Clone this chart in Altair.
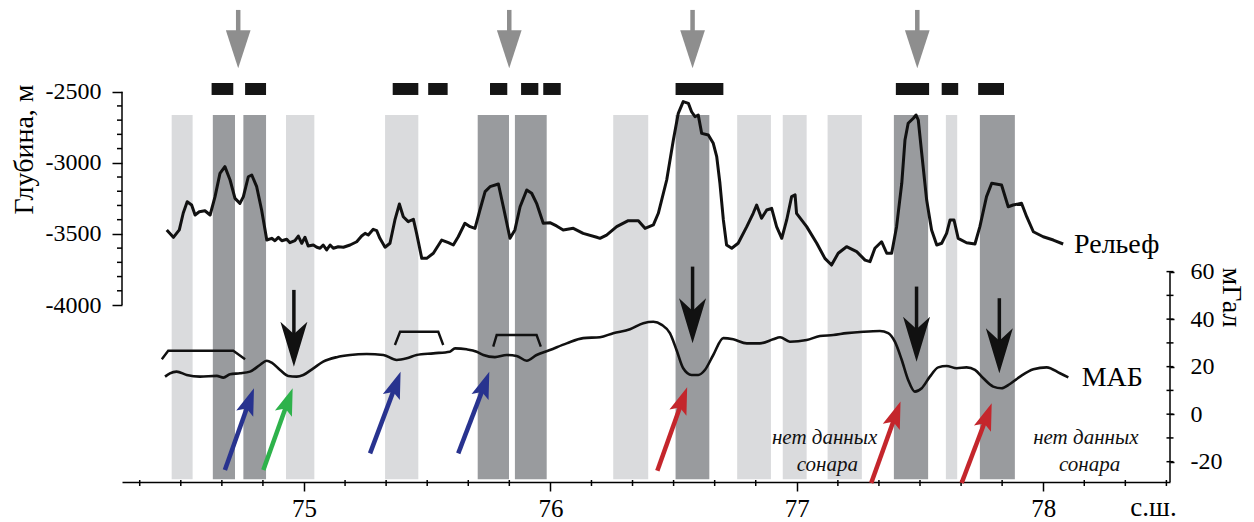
import altair as alt
import pandas as pd

FONT = "Liberation Serif"
X_DOMAIN = [74.2614, 78.5146]
DEPTH_DOMAIN = [-5244.7, -1911.4]
MAB_DOMAIN = [-28.55, 170.95]

# ---------------- data ----------------
relief_lat = [74.443, 74.470, 74.494, 74.510, 74.526, 74.544, 74.558, 74.575, 74.598, 74.619,
              74.639, 74.659, 74.679, 74.700, 74.720, 74.740, 74.754, 74.774, 74.788, 74.808,
              74.828, 74.849, 74.869, 74.882, 74.896, 74.910, 74.930, 74.943, 74.963, 74.977,
              74.991, 75.004, 75.017, 75.038, 75.052, 75.065, 75.078, 75.092, 75.106, 75.119,
              75.139, 75.160, 75.187, 75.214, 75.234, 75.248, 75.261, 75.281, 75.295, 75.308,
              75.329, 75.349, 75.369, 75.387, 75.403, 75.423, 75.444, 75.457, 75.478, 75.498,
              75.525, 75.559, 75.586, 75.606, 75.626, 75.653, 75.674, 75.694, 75.714, 75.735,
              75.755, 75.789, 75.809, 75.836, 75.856, 75.877, 75.904, 75.924, 75.944, 75.971,
              75.998, 76.025, 76.052, 76.093, 76.133, 76.188, 76.201, 76.228, 76.269, 76.316,
              76.357, 76.384, 76.418, 76.438, 76.472, 76.499, 76.519, 76.539, 76.560, 76.573,
              76.587, 76.600, 76.614, 76.641, 76.661, 76.675, 76.688, 76.702, 76.715, 76.736,
              76.762, 76.797, 76.823, 76.837, 76.857, 76.878, 76.898, 76.918, 76.939, 76.959,
              76.979, 76.993, 76.999, 77.040, 77.081, 77.114, 77.141, 77.168, 77.202, 77.243,
              77.277, 77.297, 77.317, 77.344, 77.365, 77.385, 77.405, 77.426, 77.439, 77.452,
              77.473, 77.484, 77.493, 77.507, 77.527, 77.547, 77.568, 77.588, 77.608, 77.622,
              77.638, 77.655, 77.689, 77.723, 77.743, 77.770, 77.791, 77.831, 77.858, 77.878,
              77.912, 77.933, 77.960, 78.000, 78.041, 78.081]
relief_depth = [-3472, -3524, -3472, -3353, -3274, -3297, -3367, -3344, -3337, -3367,
                -3238, -3074, -3027, -3121, -3250, -3285, -3238, -3098, -3086, -3168,
                -3332, -3543, -3531, -3548, -3524, -3548, -3538, -3562, -3548, -3515,
                -3566, -3524, -3585, -3578, -3594, -3601, -3578, -3613, -3578, -3601,
                -3590, -3594, -3578, -3555, -3515, -3496, -3508, -3468, -3477, -3531,
                -3594, -3566, -3402, -3290, -3379, -3414, -3397, -3496, -3672, -3672,
                -3636, -3543, -3562, -3578, -3520, -3425, -3449, -3461, -3332, -3203,
                -3168, -3149, -3309, -3531, -3472, -3309, -3191, -3214, -3285, -3425,
                -3421, -3444, -3472, -3461, -3496, -3524, -3531, -3508, -3449, -3407,
                -3407, -3461, -3437, -3355, -3121, -2840, -2652, -2570, -2582, -2641,
                -2676, -2664, -2793, -2805, -2863, -2957, -3144, -3402, -3578, -3601,
                -3566, -3449, -3355, -3297, -3390, -3332, -3320, -3449, -3531, -3402,
                -3238, -3226, -3355, -3449, -3566, -3672, -3719, -3636, -3590, -3625,
                -3684, -3695, -3601, -3555, -3636, -3636, -3449, -3144, -2840, -2722,
                -2687, -2664, -2699, -2933, -3262, -3472, -3578, -3566, -3496, -3402,
                -3402, -3531, -3562, -3571, -3449, -3238, -3144, -3156, -3309, -3297,
                -3285, -3379, -3485, -3520, -3543, -3571]

mab_lat = [74.436, 74.456, 74.483, 74.524, 74.578, 74.646, 74.673, 74.700, 74.740, 74.781,
           74.821, 74.849, 74.869, 74.903, 74.936, 74.970, 74.997, 75.038, 75.078, 75.133,
           75.187, 75.254, 75.322, 75.376, 75.417, 75.457, 75.525, 75.592, 75.613, 75.660,
           75.701, 75.728, 75.775, 75.823, 75.863, 75.904, 75.944, 75.998, 76.066, 76.133,
           76.201, 76.255, 76.323, 76.377, 76.418, 76.452, 76.485, 76.512, 76.539, 76.573,
           76.600, 76.627, 76.661, 76.702, 76.742, 76.797, 76.850, 76.904, 76.932, 76.972,
           77.040, 77.094, 77.148, 77.202, 77.270, 77.337, 77.371, 77.398, 77.426, 77.452,
           77.479, 77.507, 77.540, 77.574, 77.608, 77.649, 77.689, 77.723, 77.757, 77.797,
           77.831, 77.865, 77.906, 77.960, 78.014, 78.068, 78.102]
mab_mgal = [15.8, 17.2, 17.9, 16.5, 15.8, 16.1, 15.4, 16.8, 17.2, 17.9,
            20.7, 22.5, 21.7, 18.6, 16.1, 15.8, 16.5, 19.3, 22.1, 24.0,
            24.9, 25.3, 24.9, 22.8, 23.5, 24.9, 25.6, 26.3, 27.7, 27.3,
            26.3, 24.9, 24.0, 24.9, 24.5, 22.5, 24.9, 27.0, 29.8, 32.0,
            32.4, 34.1, 35.7, 38.3, 38.9, 37.6, 34.1, 27.0, 19.3, 16.5,
            16.5, 18.6, 24.9, 32.0, 31.5, 29.8, 29.8, 31.5, 32.4, 30.5,
            31.2, 32.9, 33.3, 34.1, 34.7, 35.0, 34.1, 30.5, 22.8, 14.4,
            9.5, 10.9, 15.8, 19.7, 20.3, 19.3, 19.7, 18.6, 15.1, 11.6,
            10.9, 12.7, 15.8, 18.9, 19.7, 17.2, 15.5]

band_start = [74.463, 74.630, 74.754, 74.927, 75.329, 75.705, 75.856, 76.255, 76.508, 76.758,
              76.943, 77.125, 77.394, 77.605, 77.743]
band_end = [74.548, 74.720, 74.846, 75.042, 75.464, 75.832, 75.985, 76.397, 76.645, 76.895,
            77.040, 77.264, 77.533, 77.651, 77.885]
band_kind = ["light", "dark", "dark", "light", "light", "dark", "dark", "light", "dark", "light",
             "light", "light", "dark", "light", "dark"]
band_top, band_bottom = -2664, -5226

bar_start = [74.625, 74.761, 75.360, 75.504, 75.755, 75.881, 75.971, 76.508, 77.402, 77.588, 77.736]
bar_end = [74.713, 74.846, 75.464, 75.583, 75.825, 75.951, 76.042, 76.702, 77.537, 77.655, 77.841]
bar_top, bar_bottom = -2439, -2523

gray_arrow_lat = [74.733, 75.833, 76.577, 77.489]
gray_arrow_top, gray_arrow_tip = -1925, -2335

black_arrow_lat = [74.959, 76.577, 77.486, 77.822]
black_arrow_top = [52.3, 62.1, 53.7, 48.8]
black_arrow_tip = [20.0, 29.8, 22.1, 17.2]

color_arrow_kind = ["blue", "green", "blue", "blue", "red", "red", "red"]
color_arrow_tail_lat = [74.679, 74.835, 75.268, 75.626, 76.434, 77.302, 77.669]
color_arrow_tail_mgal = [-23.5, -23.5, -16.5, -16.5, -23.8, -29.0, -29.0]
color_arrow_tip_lat = [74.797, 74.954, 75.392, 75.752, 76.555, 77.421, 77.791]
color_arrow_tip_mgal = [10.9, 10.9, 17.9, 17.9, 11.3, 5.3, 4.6]

bracket_id = [1, 1, 1, 1, 2, 2, 2, 2, 3, 3, 3, 3]
bracket_lat = [74.423, 74.449, 74.713, 74.761, 75.369, 75.390, 75.545, 75.565,
               75.768, 75.782, 75.944, 75.961]
bracket_mgal = [23.1, 26.7, 26.7, 23.1, 29.1, 34.7, 34.7, 29.1, 28.4, 33.3, 33.3, 28.4]

note_text = ["нет данных", "сонара", "нет данных", "сонара"]
note_lat = [77.113, 77.124, 78.173, 78.188]
note_mgal = [-10.0, -21.4, -10.0, -21.4]

relief_label = ["Рельеф"]
relief_label_lat, relief_label_depth = [78.125], [-3578]
mab_label = ["МАБ"]
mab_label_lat, mab_label_mgal = [78.156], [15.1]

x_major_ticks = [75, 76, 77, 78]
x_minor_ticks = [74.3333, 74.5, 74.6667, 74.8333, 75.1667, 75.3333, 75.5, 75.6667, 75.8333,
                 76.1667, 76.3333, 76.5, 76.6667, 76.8333, 77.1667, 77.3333, 77.5, 77.6667,
                 77.8333, 78.1667, 78.3333, 78.5]
depth_major_ticks = [-2500, -3000, -3500, -4000]
depth_minor_ticks = [-2600, -2700, -2800, -2900, -3100, -3200, -3300, -3400,
                     -3600, -3700, -3800, -3900]
mab_major_ticks = [60, 40, 20, 0, -20]
mab_all_ticks = [-20, -10, 0, 10, 20, 30, 40, 50, 60]

ARROW_COLORS = {"blue": "#28338f", "green": "#2eb24b", "red": "#c4262c"}

# ---------------- helpers ----------------
xs = alt.Scale(domain=X_DOMAIN, nice=False, zero=False)
ds = alt.Scale(domain=DEPTH_DOMAIN, nice=False, zero=False)
ms = alt.Scale(domain=MAB_DOMAIN, nice=False, zero=False)


def X(f, axis=alt.Undefined):
    # x is shared by all layers: leave the axis unspecified so the one explicit axis wins
    return alt.X(f, type="quantitative", scale=xs, axis=axis)


def YD(f, axis=None):
    return alt.Y(f, type="quantitative", scale=ds, axis=axis)


def YM(f, axis=None):
    return alt.Y(f, type="quantitative", scale=ms, axis=axis)


GRAY_HEAD = "M0,0L-0.65,-2L0.65,-2Z"
BLACK_HEAD = "M0,0L-0.6,-2L0,-1.45L0.6,-2Z"
UP_HEAD = "M0,0L-0.67,2L0,1.6L0.67,2Z"

x_axis = alt.Axis(orient="bottom", values=x_major_ticks, labelExpr="datum.value + ''",
                  tickSize=9, tickWidth=1.5, tickColor="black", domain=True,
                  domainColor="black", domainWidth=1.5, grid=False,
                  labelFont=FONT, labelFontSize=25, labelColor="black", labelPadding=5,
                  labelFlush=False, labelOverlap=False,
                  title="с.ш.", titleFont=FONT, titleFontSize=27,
                  titleFontWeight="normal", titleColor="black", titleX=1031, titleY=25,
                  titleAlign="center", titleBaseline="middle", titleAngle=0)
depth_axis = alt.Axis(orient="left", values=depth_major_ticks, labelExpr="datum.value + ''",
                      domain=False, tickSize=10, tickWidth=1.5, tickColor="black", grid=False,
                      labelFont=FONT, labelFontSize=24, labelColor="black", labelPadding=11,
                      title="Глубина, м", titleFont=FONT, titleFontSize=28,
                      titleFontWeight="normal", titleColor="black", titleAngle=270,
                      titleX=-98, titleY=141, titleAlign="center", titleBaseline="middle")
mab_axis = alt.Axis(orient="right", values=mab_major_ticks, labelExpr="datum.value + ''",
                    domain=False, tickSize=4, tickWidth=1.5, tickColor="black", grid=False,
                    labelFont=FONT, labelFontSize=24, labelColor="black", labelPadding=16,
                    title="мГал", titleFont=FONT, titleFontSize=28, titleFontWeight="normal",
                    titleColor="black", titleAngle=90, titleX=60, titleY=289,
                    titleAlign="center", titleBaseline="middle")

# ---------------- depth panel ----------------
bands_df = pd.DataFrame({"x0": band_start, "x1": band_end, "kind": band_kind,
                         "y0": band_top, "y1": band_bottom})
bands = alt.Chart(bands_df).mark_rect().encode(
    x=X("x0:Q", axis=x_axis), x2="x1:Q",
    y=YD("y0:Q", axis=depth_axis), y2="y1:Q",
    color=alt.Color("kind:N", scale=alt.Scale(domain=["light", "dark"],
                                              range=["#dadbdd", "#999b9e"]), legend=None),
)

bars_df = pd.DataFrame({"x0": bar_start, "x1": bar_end, "y0": bar_top, "y1": bar_bottom})
bars = alt.Chart(bars_df).mark_rect(color="#151515").encode(
    x=X("x0:Q"), x2="x1:Q", y=YD("y0:Q"), y2="y1:Q")

garrow_df = pd.DataFrame({"lat": gray_arrow_lat, "top": gray_arrow_top, "tip": gray_arrow_tip})
gshaft = alt.Chart(garrow_df).mark_rule(color="#8e8e8e", strokeWidth=4.5, y2Offset=-18).encode(
    x=X("lat:Q"), y=YD("top:Q"), y2="tip:Q")
ghead = alt.Chart(garrow_df).mark_point(shape=GRAY_HEAD, size=1444, filled=True, opacity=1,
                                        color="#8e8e8e", strokeWidth=0).encode(
    x=X("lat:Q"), y=YD("tip:Q"))

relief_df = pd.DataFrame({"lat": relief_lat, "depth": relief_depth,
                          "i": list(range(len(relief_lat)))})
relief = alt.Chart(relief_df).mark_line(color="#111111", strokeWidth=3, strokeJoin="round").encode(
    x=X("lat:Q"), y=YD("depth:Q"), order="i:Q")

rlab = alt.Chart(pd.DataFrame({"t": relief_label, "lat": relief_label_lat,
                               "depth": relief_label_depth})).mark_text(
    font=FONT, fontSize=28, align="left", baseline="middle", color="black").encode(
    x=X("lat:Q"), y=YD("depth:Q"), text="t:N")

laxis_df = pd.DataFrame({"lat": [X_DOMAIN[0]], "y0": [depth_major_ticks[0]],
                         "y1": [depth_major_ticks[-1]]})
laxis = alt.Chart(laxis_df).mark_rule(color="black", strokeWidth=1.5).encode(
    x=X("lat:Q"), y=YD("y0:Q"), y2="y1:Q")
lminor = alt.Chart(pd.DataFrame({"lat": X_DOMAIN[0], "d": depth_minor_ticks})).mark_tick(
    orient="horizontal", size=5, thickness=1.5, color="black", opacity=1, xOffset=-2.5).encode(
    x=X("lat:Q"), y=YD("d:Q"))
xminor = alt.Chart(pd.DataFrame({"lat": x_minor_ticks, "d": DEPTH_DOMAIN[0]})).mark_tick(
    orient="vertical", size=6, thickness=1.5, color="black", opacity=1, yOffset=1).encode(
    x=X("lat:Q"), y=YD("d:Q"))

# ---------------- MAB panel ----------------
mab_df = pd.DataFrame({"lat": mab_lat, "mgal": mab_mgal, "i": list(range(len(mab_lat)))})
mab = alt.Chart(mab_df).mark_line(color="#111111", strokeWidth=2.6, interpolate="monotone").encode(
    x=X("lat:Q"), y=YM("mgal:Q", axis=mab_axis), order="i:Q")

br_df = pd.DataFrame({"id": bracket_id, "lat": bracket_lat, "mgal": bracket_mgal,
                      "i": list(range(len(bracket_id)))})
brackets = alt.Chart(br_df).mark_line(color="#111111", strokeWidth=2.4).encode(
    x=X("lat:Q"), y=YM("mgal:Q"), detail="id:N", order="i:Q")

barrow_df = pd.DataFrame({"lat": black_arrow_lat, "top": black_arrow_top, "tip": black_arrow_tip})
bshaft = alt.Chart(barrow_df).mark_rule(color="#111111", strokeWidth=3.5, y2Offset=-25).encode(
    x=X("lat:Q"), y=YM("top:Q"), y2="tip:Q")
bhead = alt.Chart(barrow_df).mark_point(shape=BLACK_HEAD, size=2025, filled=True, opacity=1,
                                        color="#111111", strokeWidth=0).encode(
    x=X("lat:Q"), y=YM("tip:Q"))

carrow_df = pd.DataFrame({"kind": color_arrow_kind,
                          "x0": color_arrow_tail_lat, "y0": color_arrow_tail_mgal,
                          "x1": color_arrow_tip_lat, "y1": color_arrow_tip_mgal})
color_layers = []
for kind, col in ARROW_COLORS.items():
    base = alt.Chart(carrow_df).transform_filter(alt.datum.kind == kind)
    color_layers.append(base.mark_rule(strokeWidth=4.5, x2Offset=-4, y2Offset=11, color=col).encode(
        x=X("x0:Q"), y=YM("y0:Q"), x2="x1:Q", y2="y1:Q"))
    color_layers.append(base.mark_point(shape=UP_HEAD, size=729, filled=True, opacity=1,
                                        strokeWidth=0, angle=20, color=col).encode(
        x=X("x1:Q"), y=YM("y1:Q")))

notes = alt.Chart(pd.DataFrame({"t": note_text, "lat": note_lat, "mgal": note_mgal})).mark_text(
    font=FONT, fontSize=21, fontStyle="italic", align="center", baseline="middle",
    color="#111111").encode(x=X("lat:Q"), y=YM("mgal:Q"), text="t:N")

mlab = alt.Chart(pd.DataFrame({"t": mab_label, "lat": mab_label_lat,
                               "mgal": mab_label_mgal})).mark_text(
    font=FONT, fontSize=28, align="left", baseline="middle", color="black").encode(
    x=X("lat:Q"), y=YM("mgal:Q"), text="t:N")

raxis_df = pd.DataFrame({"lat": [X_DOMAIN[1]], "y0": [mab_major_ticks[0]], "y1": [MAB_DOMAIN[0]]})
raxis = alt.Chart(raxis_df).mark_rule(color="black", strokeWidth=1.5).encode(
    x=X("lat:Q"), y=YM("y0:Q"), y2="y1:Q")
rticks = alt.Chart(pd.DataFrame({"lat": X_DOMAIN[1], "m": mab_all_ticks})).mark_tick(
    orient="horizontal", size=7, thickness=1.5, color="black", opacity=1).encode(
    x=X("lat:Q"), y=YM("m:Q"))

layers = [bands, bars, gshaft, ghead, relief, rlab, laxis, lminor, xminor,
          mab, brackets, bshaft, bhead] + color_layers + [notes, mlab, raxis, rticks]

chart = alt.layer(*layers).resolve_scale(y="independent").properties(
    width=1048, height=474,
    padding={"left": 114, "top": 0, "right": 76, "bottom": 40},
    autosize=alt.AutoSizeParams(type="none"),
).configure_view(stroke=None).configure_axis(
    labelFont=FONT, titleFont=FONT
).configure_text(font=FONT)

chart.save("out.html", embed_options={"renderer": "svg", "actions": False})
